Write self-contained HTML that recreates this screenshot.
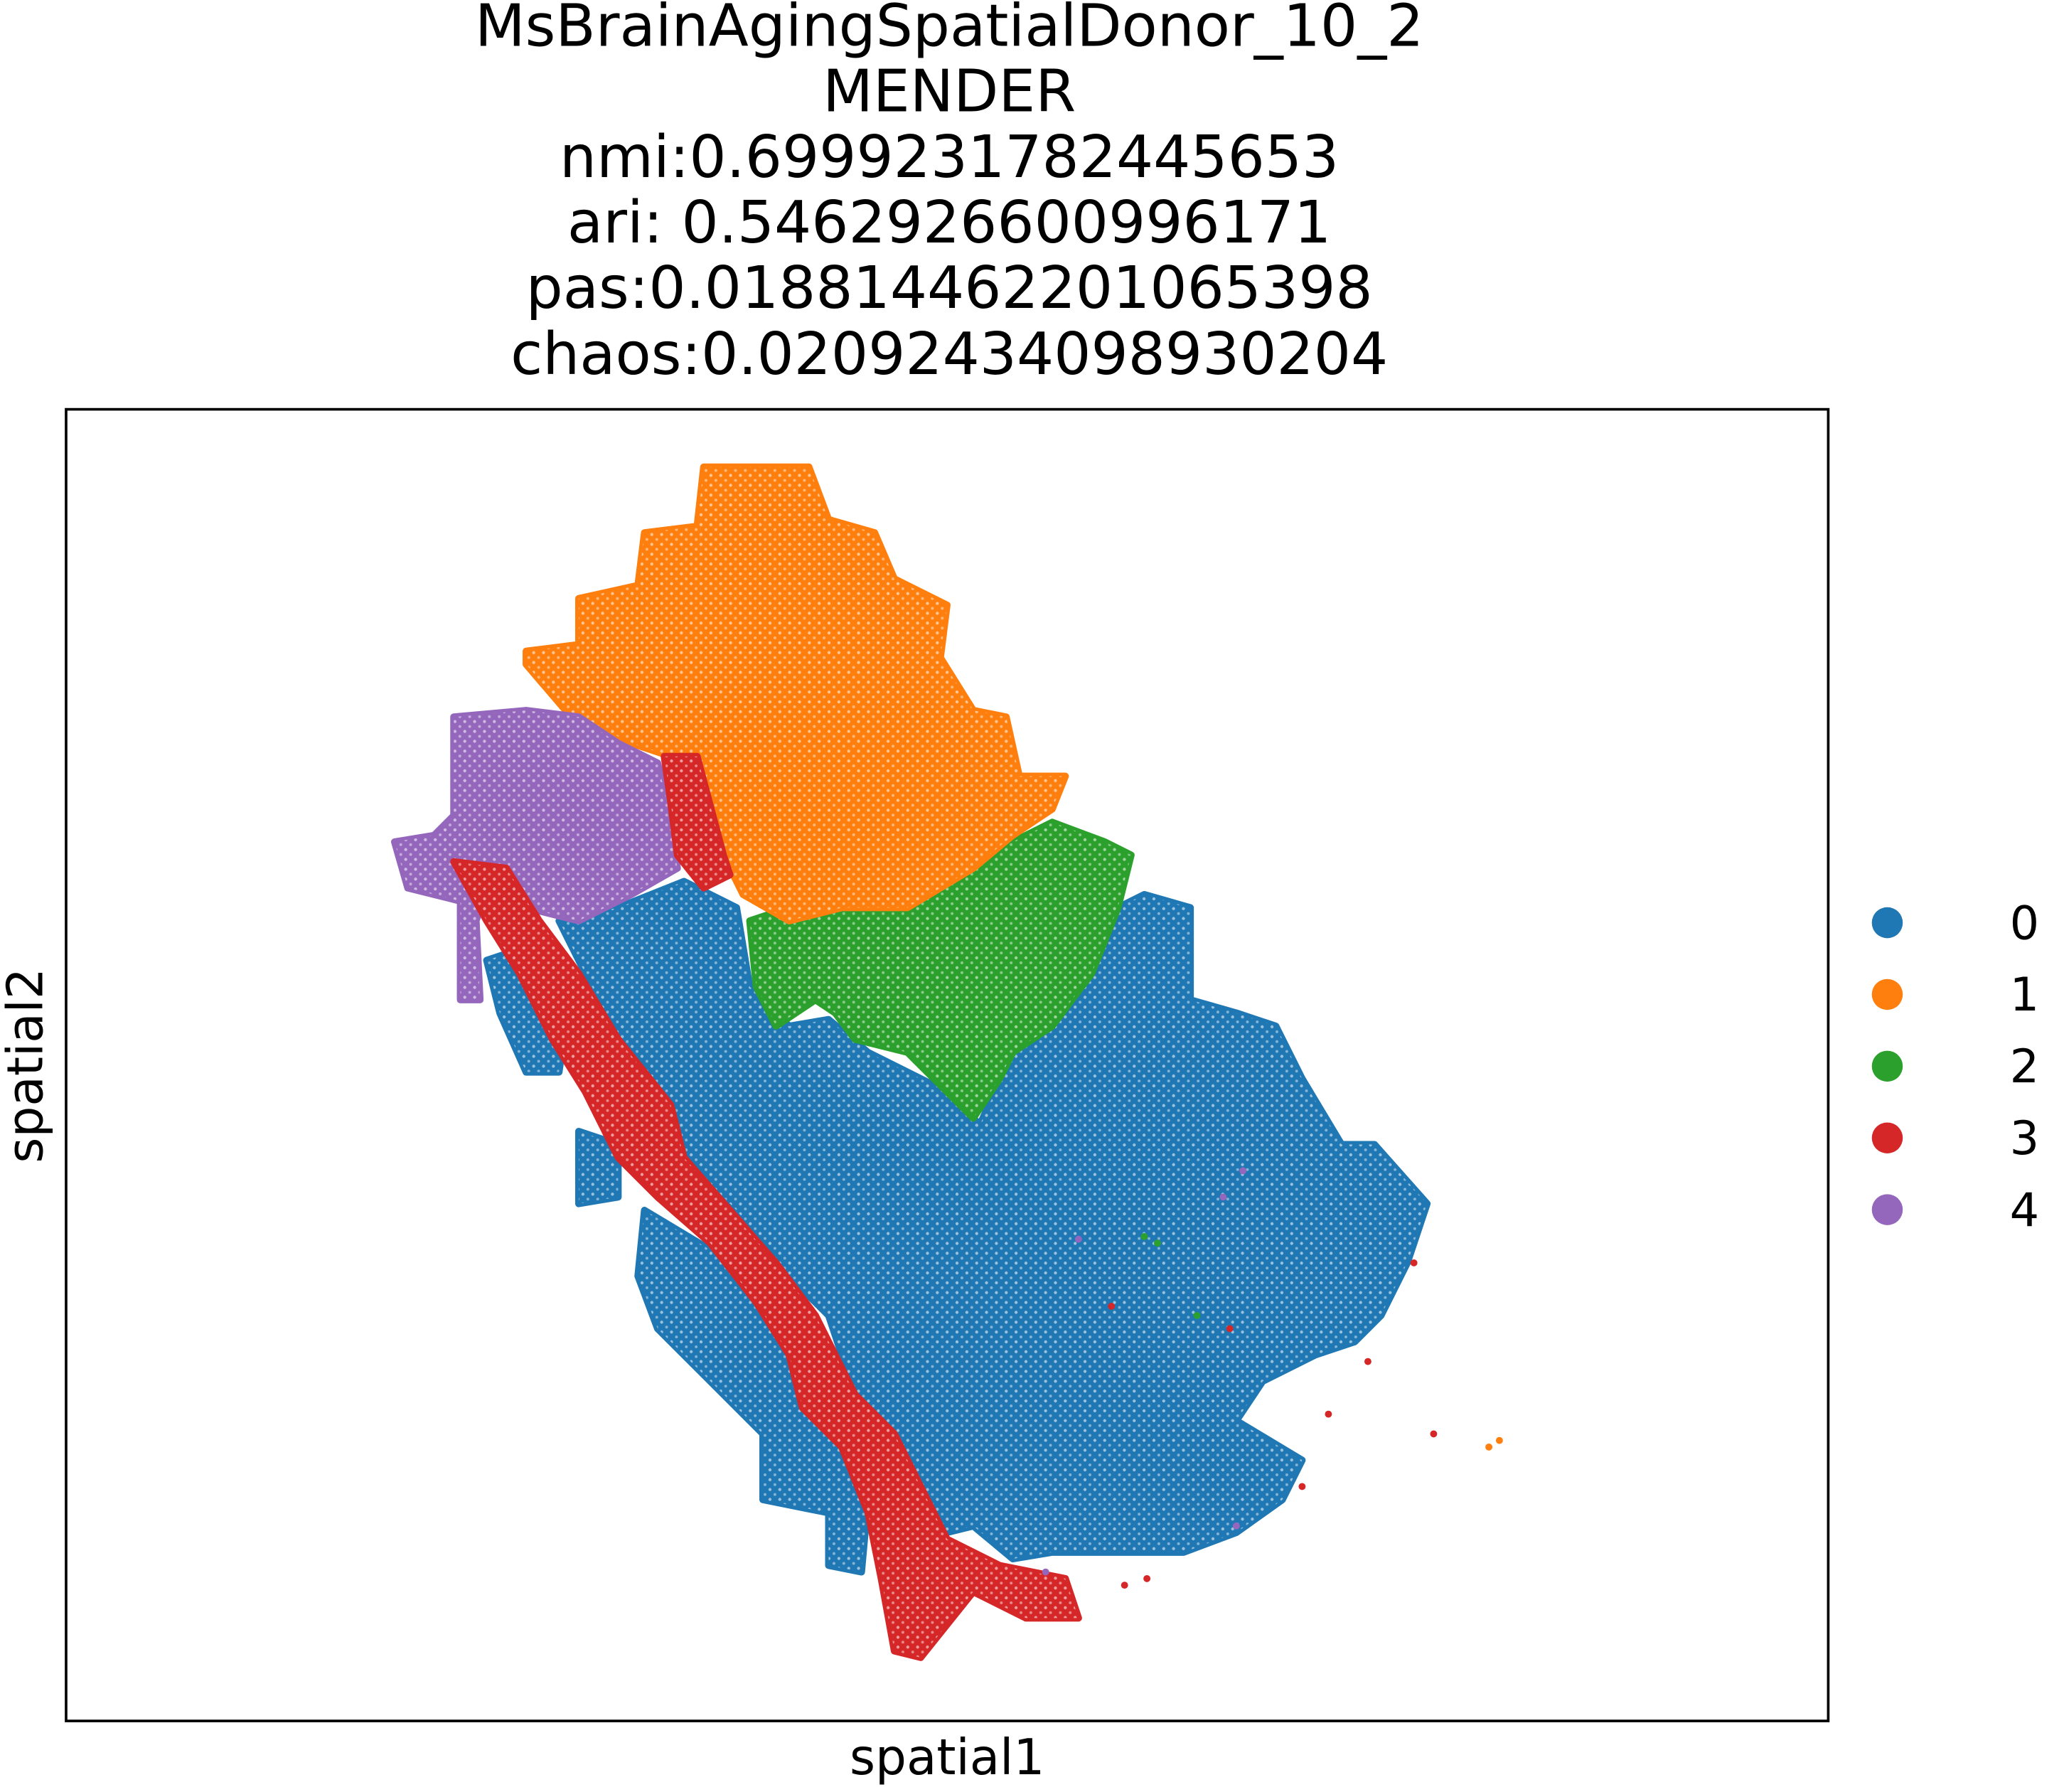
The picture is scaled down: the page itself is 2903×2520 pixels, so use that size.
<!DOCTYPE html>
<html><head><meta charset="utf-8"><style>
html,body{margin:0;padding:0;background:#fff;}
svg{display:block;font-family:"DejaVu Sans","Liberation Sans",sans-serif;}
</style></head><body>
<svg id="chart" width="2903" height="2520" viewBox="0 0 2903 2520" xmlns="http://www.w3.org/2000/svg">
<defs>
<pattern id="speck" width="14" height="14" patternUnits="userSpaceOnUse">
<circle cx="3" cy="4" r="2.2" fill="#fff" opacity="0.55"/><circle cx="10" cy="11" r="2" fill="#fff" opacity="0.45"/>
</pattern>
</defs>
<g transform="scale(0.989)">
<g font-size="83" text-anchor="middle" fill="#000">
<text x="1350" y="65">MsBrainAgingSpatialDonor_10_2</text>
<text x="1350" y="158">MENDER</text>
<text x="1350" y="252">nmi:0.6999231782445653</text>
<text x="1350" y="345">ari: 0.5462926600996171</text>
<text x="1350" y="438">pas:0.018814462201065398</text>
<text x="1350" y="532">chaos:0.02092434098930204</text>
</g>
<g id="marks"></g>
<rect x="94" y="582" width="2506" height="1865" fill="none" stroke="#000" stroke-width="3.7"/>
<text x="1347" y="2523" font-size="70" text-anchor="middle">spatial1</text>
<text transform="translate(60,1515) rotate(-90)" font-size="70" text-anchor="middle">spatial2</text>
<g id="legend" font-size="66"></g>
</g>
</svg>
<script>
const categories = ["0","1","2","3","4"];
const colors = ["#1f77b4","#ff7f0e","#2ca02c","#d62728","#9467bd"];
// cluster region outlines in spatial coordinates (spatial1, spatial2-down)
const region0 = [[470,690],[520,670],[560,690],[570,750],[600,780],[630,775],[660,800],[720,830],[745,855],[770,800],[830,730],[850,690],[870,680],[905,690],[905,760],[940,770],[970,780],[990,820],[1020,870],[1045,870],[1085,915],[1070,960],[1050,1000],[1030,1020],[1000,1030],[960,1050],[940,1080],[990,1110],[975,1140],[940,1165],[900,1180],[850,1180],[800,1180],[770,1185],[740,1160],[720,1165],[700,1130],[680,1090],[650,1060],[630,1000],[600,970],[560,920],[520,880],[505,840],[470,790],[445,740],[425,700]];
const region0b = [[370,730],[400,720],[430,780],[425,815],[400,815],[380,770]];
const region0c = [[490,920],[540,950],[580,990],[610,1040],[640,1090],[660,1140],[655,1195],[630,1190],[630,1150],[580,1140],[580,1090],[540,1050],[500,1010],[485,970]];
const region0d = [[440,860],[470,870],[470,910],[440,915]];
const region1 = [[535,355],[615,355],[630,395],[665,405],[680,440],[720,460],[715,500],[740,540],[765,545],[775,590],[810,590],[800,615],[770,635],[740,660],[690,690],[640,690],[600,700],[565,680],[550,650],[545,615],[525,590],[510,575],[480,565],[430,540],[400,505],[400,495],[440,490],[440,455],[485,445],[490,405],[530,400]];
const region2 = [[570,700],[600,690],[640,690],[690,690],[720,665],[745,655],[770,640],[800,625],[840,640],[860,650],[850,690],[830,740],[800,780],[770,800],[760,820],[740,850],[720,830],[690,800],[650,790],[635,770],[620,760],[590,780],[575,750]];
const region3 = [[345,655],[385,660],[410,700],[440,740],[470,790],[510,840],[520,880],[555,920],[590,960],[620,1000],[650,1060],[680,1090],[700,1130],[720,1170],[760,1190],[810,1200],[820,1230],[780,1230],[740,1210],[700,1260],[680,1255],[670,1200],[660,1150],[640,1100],[610,1070],[600,1030],[575,990],[540,945],[500,910],[470,880],[445,830],[420,790],[395,740],[370,700]];
const region3b = [[505,575],[530,575],[550,650],[555,665],[535,675],[515,650],[510,610]];
const region4 = [[345,545],[400,540],[440,545],[470,565],[500,580],[510,620],[515,660],[480,680],[440,700],[400,690],[375,660],[362,700],[365,760],[350,760],[350,685],[310,675],[300,640],[330,635],[345,620]];
const regionCluster = [0,0,0,0,2,1,4,3,3];
const regions = [region0,region0b,region0c,region0d,region2,region1,region4,region3,region3b];
// isolated cells: spatial1, spatial2, cluster
const ptX = [1090,1132,1140,845,940,870,930,1010,1040,1075,990,855,872,910,935,795,880,820,945];
const ptY = [1090,1100,1095,993,1160,940,910,1075,1035,960,1130,1205,1200,1000,1010,1195,945,942,890];
const ptC = [3,1,1,3,4,2,4,3,3,3,3,3,3,2,3,4,2,4,4];

const S = 2903/1552;
function xScale(v){ return v*S; }
function yScale(v){ return v*S; }
const NS="http://www.w3.org/2000/svg";
const g=document.getElementById('marks');
regions.forEach((poly,i)=>{
  const d="M"+poly.map(p=>xScale(p[0]).toFixed(1)+","+yScale(p[1]).toFixed(1)).join("L")+"Z";
  const c=colors[regionCluster[i]];
  const p=document.createElementNS(NS,'path');
  p.setAttribute('d',d);p.setAttribute('fill',c);p.setAttribute('stroke',c);
  p.setAttribute('stroke-width','10');p.setAttribute('stroke-linejoin','round');
  
  
  g.appendChild(p);
  const t=document.createElementNS(NS,'path');
  t.setAttribute('d',d);t.setAttribute('fill','url(#speck)');
  
  
  g.appendChild(t);
});
ptX.forEach((x,i)=>{
  const c=document.createElementNS(NS,'circle');
  c.setAttribute('cx',xScale(x));c.setAttribute('cy',yScale(ptY[i]));c.setAttribute('r',5);
  c.setAttribute('fill',colors[ptC[i]]);
  
  
  g.appendChild(c);
});
const lg=document.getElementById('legend');
categories.forEach((k,i)=>{
  const y=1312+i*102;
  const c=document.createElementNS(NS,'circle');
  c.setAttribute('cx',2684);c.setAttribute('cy',y);c.setAttribute('r',22);c.setAttribute('fill',colors[i]);
  
  
  lg.appendChild(c);
  const t=document.createElementNS(NS,'text');
  t.setAttribute('x',2900);t.setAttribute('y',y+23);t.setAttribute('text-anchor','end');
  t.textContent=k;
  
  
  lg.appendChild(t);
});
</script>
</body></html>
